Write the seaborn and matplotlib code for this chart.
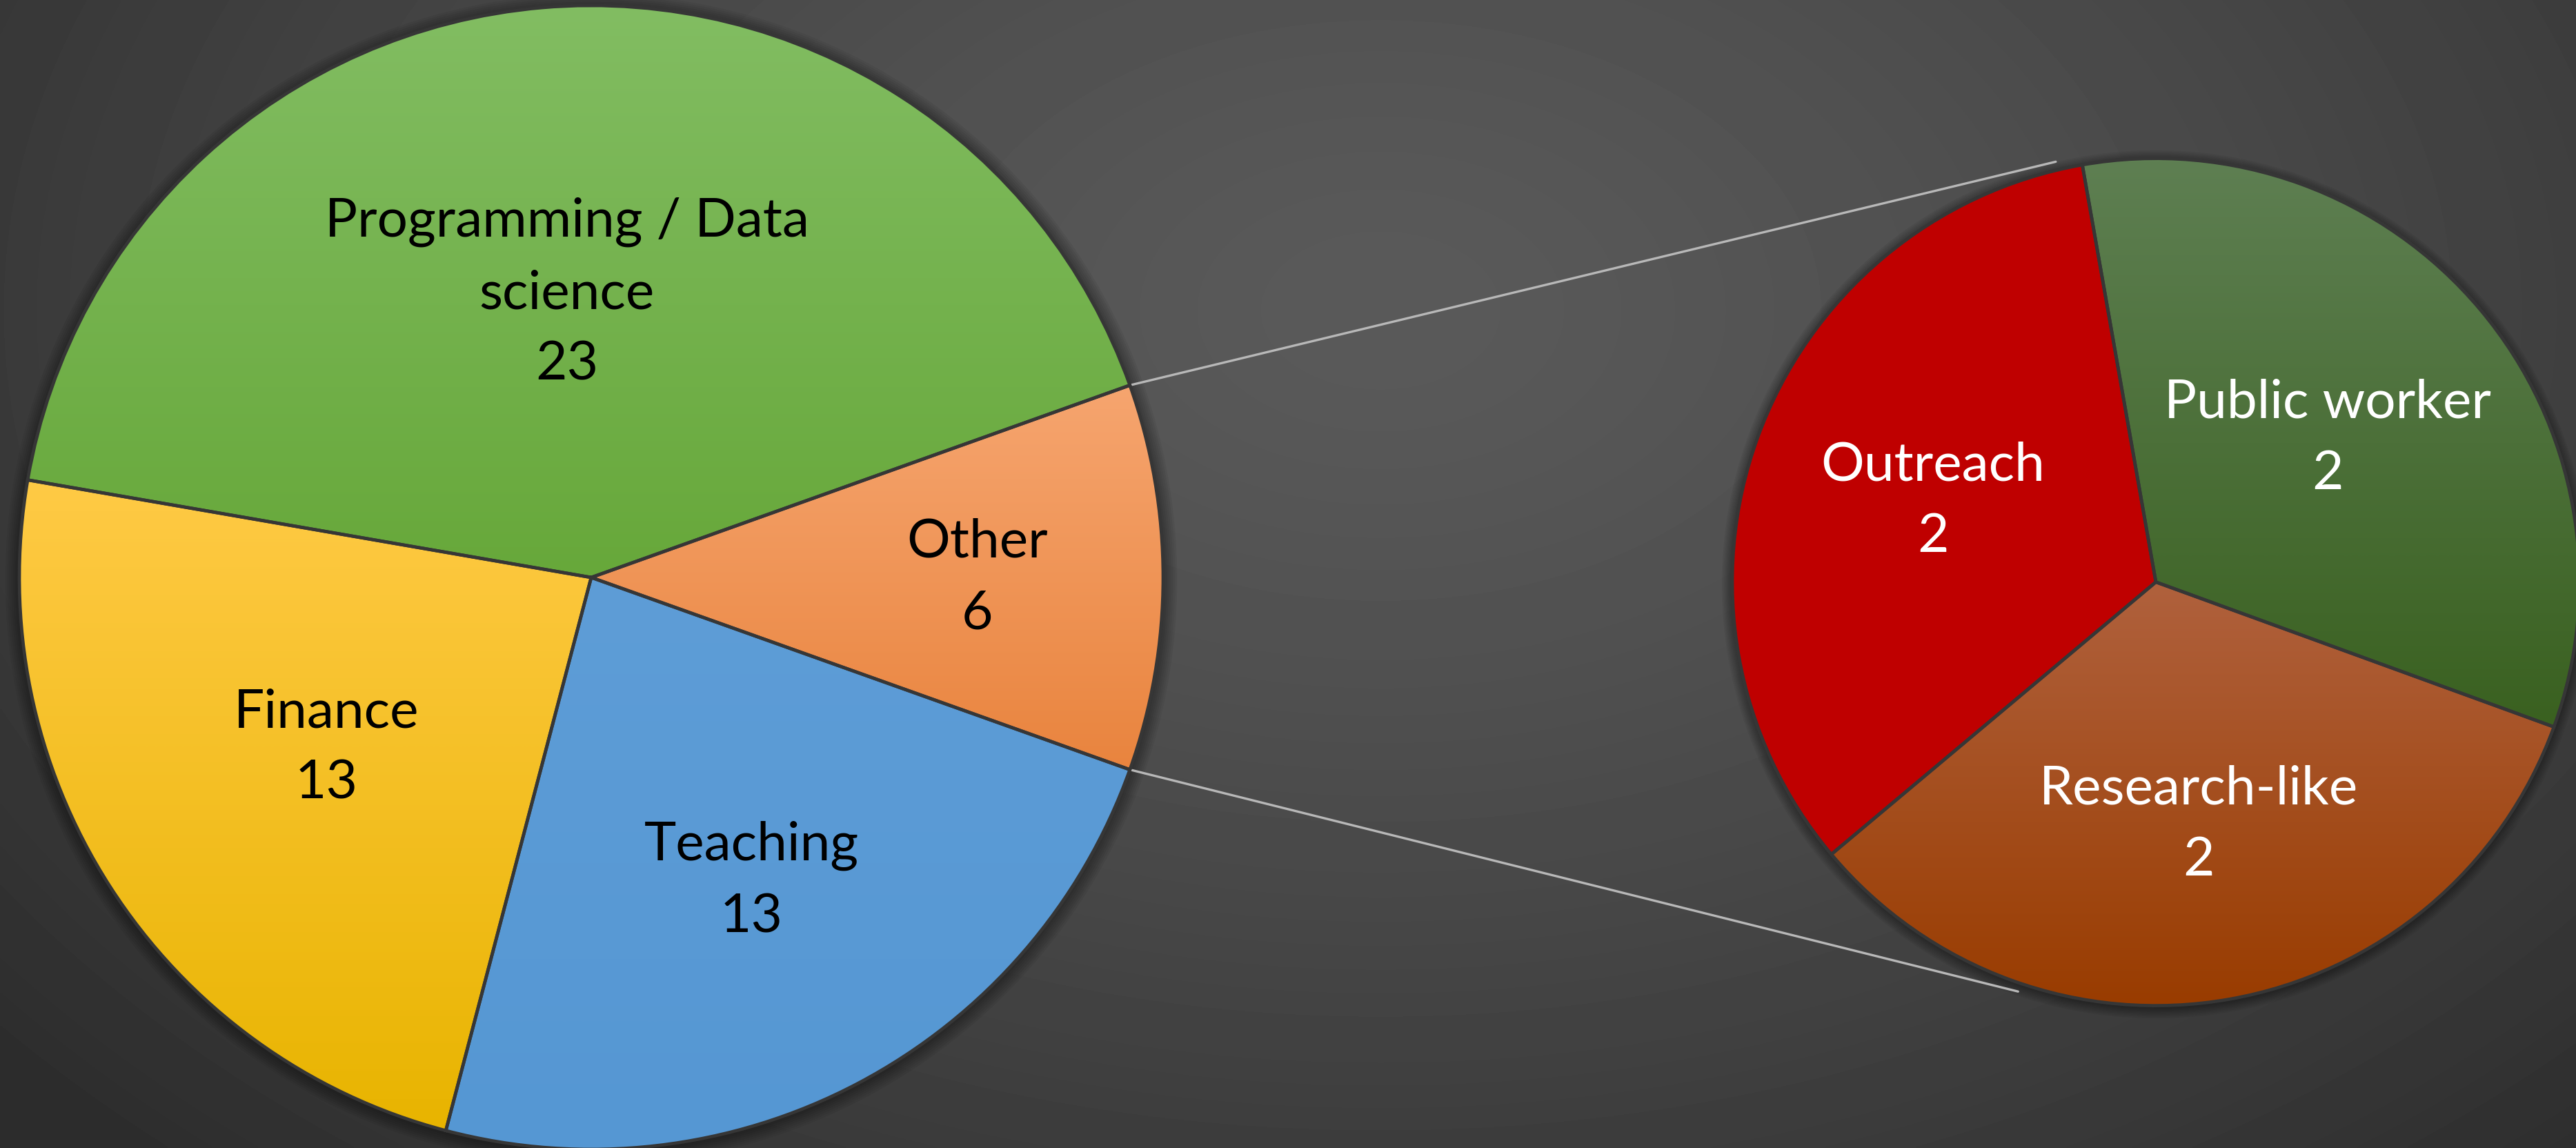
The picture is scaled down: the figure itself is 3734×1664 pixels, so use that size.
import numpy as np
import matplotlib
matplotlib.use("Agg")
import matplotlib.pyplot as plt
import matplotlib.colors as mcolors
from matplotlib.patches import Circle
import seaborn as sns

# Données : camembert principal et détail de "Other"
main_labels = ["Other", "Programming / Data\nscience", "Finance", "Teaching"]
main_values = [6, 23, 13, 13]
sub_labels = ["Outreach", "Research-like", "Public worker"]
sub_values = [2, 2, 2]

# couleurs (haut, bas) pour le dégradé vertical de chaque part
main_colors = [("#f6a56f", "#e9843e"), ("#82bd62", "#67a83a"),
               ("#ffca45", "#e8b400"), ("#5e9dd7", "#5597d3")]
sub_colors = [("#c00000", "#bf0000"), ("#b0613d", "#993c00"),
              ("#5e7f52", "#3a6120")]
main_text = "black"
sub_text = "white"

sns.set_theme(style="white")
plt.rcParams["font.family"] = ["Lato", "DejaVu Sans"]

W, H, DPI = 3734, 1665, 100
fig = plt.figure(figsize=(W / DPI, H / DPI), dpi=DPI)

# fond dégradé radial gris
bg = fig.add_axes([0, 0, 1, 1], zorder=0)
yy, xx = np.mgrid[0:H:4, 0:W:4]
d = np.sqrt(((xx - 2000) / 2500.0) ** 2 + ((yy - 450) / 1650.0) ** 2)
d = np.clip(d, 0, 1.2)
val = 0x5a - (0x5a - 0x2c) * np.clip(d / 1.05, 0, 1) ** 1.3
bg.imshow(val, cmap="gray", vmin=0, vmax=255, aspect="auto", interpolation="bilinear")
bg.axis("off")

ax = fig.add_axes([0, 0, 1, 1], zorder=1)
ax.patch.set_alpha(0)

scale = 829.0  # pixels par unité (rayon du camembert principal)
main_c = (0.0, 0.0)
sub_c = ((3125 - 857) / scale, -0.008)
sub_r = 614 / scale

start_main = -180.0 * main_values[0] / sum(main_values)
start_sub = 100.0


def draw_pie(values, colors, center, radius, start, labels, label_r, tcolor, fsize):
    wedges, _ = ax.pie(values, center=center, radius=radius, startangle=start,
                       counterclock=True, colors=[c[0] for c in colors],
                       wedgeprops=dict(edgecolor="#363636", linewidth=3.4))
    # ombre légère autour
    for k in range(8):
        ax.add_patch(Circle((center[0], center[1] - 0.004), radius * (1 + 0.0035 * k),
                            color="black", alpha=0.05, zorder=0.5, lw=0))
    grad = np.linspace(0, 1, 256)[:, None]
    for w, (ct, cb) in zip(wedges, colors):
        w.set_zorder(3)
        bb = w.get_path().get_extents()
        cmap = mcolors.LinearSegmentedColormap.from_list("g", [ct, cb])
        im = ax.imshow(grad, cmap=cmap, extent=[bb.x0, bb.x1, bb.y0, bb.y1],
                       origin="upper", aspect="auto", zorder=2, interpolation="bilinear")
        im.set_clip_path(w)
        w.set_facecolor("none")
    for w, lab, v, lr in zip(wedges, labels, values, label_r):
        mid = np.deg2rad((w.theta1 + w.theta2) / 2)
        x = center[0] + radius * lr * np.cos(mid)
        y = center[1] + radius * lr * np.sin(mid)
        ax.text(x, y, f"{lab}\n{v}", ha="center", va="center", color=tcolor,
                fontsize=fsize, linespacing=1.57, zorder=5)
    return wedges


mw = draw_pie(main_values, main_colors, main_c, 1.0, start_main, main_labels,
              [0.675, 0.50, 0.55, 0.60], main_text, 56.5)
sw = draw_pie(sub_values, sub_colors, sub_c, sub_r, start_sub, sub_labels,
              [0.56, 0.58, 0.53], sub_text, 56.5)

# lignes de liaison entre "Other" et le camembert secondaire
o = mw[0]
for a_main, a_sub in [(o.theta2, 103.4), (o.theta1, -108.6)]:
    x0, y0 = np.cos(np.deg2rad(a_main)), np.sin(np.deg2rad(a_main))
    x1 = sub_c[0] + sub_r * 1.02 * np.cos(np.deg2rad(a_sub))
    y1 = sub_c[1] + sub_r * 1.02 * np.sin(np.deg2rad(a_sub))
    ax.plot([x0, x1], [y0, y1], color="#b8b8b8", lw=2.4, zorder=1)

ax.set_xlim(-857 / scale, (W - 857) / scale)
ax.set_ylim(-(H - 838) / scale, 838 / scale)
ax.set_aspect("auto")
ax.axis("off")

fig.savefig("out.png", dpi=DPI)
